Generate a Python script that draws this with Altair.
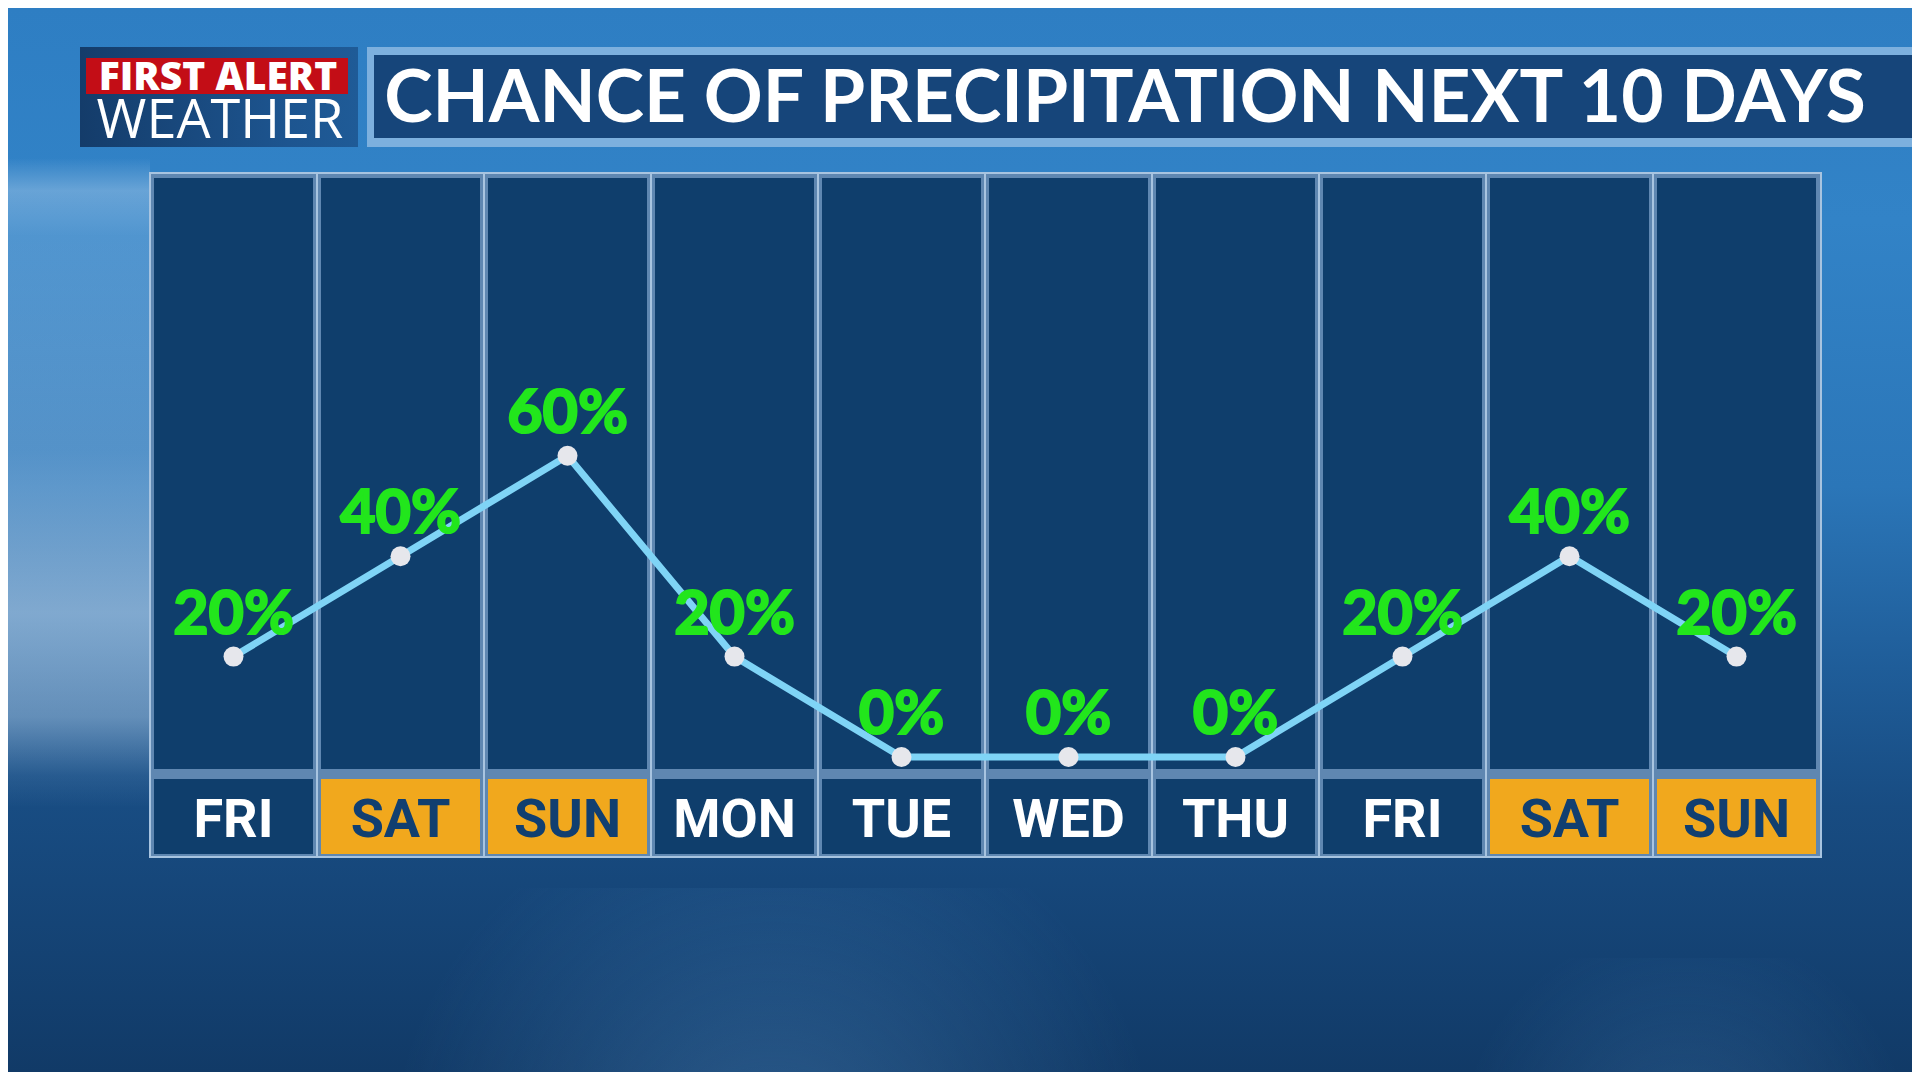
import altair as alt
import pandas as pd

# ---------------- data ----------------
days = ["FRI", "SAT", "SUN", "MON", "TUE", "WED", "THU", "FRI", "SAT", "SUN"]
precip = [20, 40, 60, 20, 0, 0, 0, 20, 40, 20]
weekend_names = ["SAT", "SUN"]
title_text = "CHANCE OF PRECIPITATION NEXT 10 DAYS"
logo_top = "FIRST ALERT"
logo_bottom = "WEATHER"

W, H = 1904, 1064

df = pd.DataFrame({"i": list(range(len(days))), "day": days, "pct": precip})
df["x0"] = df["i"]
df["x1"] = df["i"] + 1
df["xc"] = df["i"] + 0.5
df["label"] = df["pct"].astype(str) + "%"
df["wk"] = df["day"].isin(weekend_names).map({True: "wk", False: "wd"})

one = pd.DataFrame({"a": [0]})

xs = alt.Scale(domain=[0, 10], range=[142, 1812], nice=False, zero=False)
ys = alt.Scale(domain=[0, 100], range=[749, 247], nice=False, zero=False)


def grad(stops, x2=0, y2=1):
    return alt.LinearGradient(
        gradient="linear",
        stops=[alt.GradientStop(offset=o, color=c) for o, c in stops],
        x1=0, y1=0, x2=x2, y2=y2,
    )


def rgrad(stops, cx=0.5, cy=0.5):
    return alt.RadialGradient(
        gradient="radial",
        stops=[alt.GradientStop(offset=o, color=c) for o, c in stops],
        x1=cx, y1=cy, r1=0, x2=cx, y2=cy, r2=0.5,
    )


# ---------------- background ----------------
bg = alt.Chart(one).mark_rect(
    fill=grad([(0, "#2e7ec3"), (0.2, "#3283c7"), (0.45, "#2b76b8"),
               (0.62, "#1f5d99"), (0.75, "#184c82"), (1, "#113a67")])
).encode(x=alt.value(0), x2=alt.value(W), y=alt.value(0), y2=alt.value(H))

swoosh_left = alt.Chart(one).mark_rect(
    fill=grad([(0, "rgba(205,225,244,0.0)"), (0.05, "rgba(205,225,244,0.35)"),
               (0.12, "rgba(205,225,244,0.2)"), (0.45, "rgba(205,225,244,0.25)"),
               (0.7, "rgba(205,225,244,0.55)"), (0.86, "rgba(205,225,244,0.4)"),
               (0.95, "rgba(205,225,244,0.08)"), (1, "rgba(205,225,244,0.0)")])
).encode(x=alt.value(0), x2=alt.value(142), y=alt.value(150), y2=alt.value(800))

clouds = alt.Chart(one).mark_rect(
    fill=rgrad([(0, "rgba(90,150,205,0.38)"), (0.6, "rgba(90,150,205,0.14)"),
                (1, "rgba(90,150,205,0.0)")], cx=0.5, cy=0.75)
).encode(x=alt.value(380), x2=alt.value(1150), y=alt.value(880), y2=alt.value(H))

clouds2 = alt.Chart(one).mark_rect(
    fill=rgrad([(0, "rgba(90,150,205,0.25)"), (1, "rgba(90,150,205,0.0)")], cx=0.5, cy=0.8)
).encode(x=alt.value(1450), x2=alt.value(W), y=alt.value(950), y2=alt.value(H))

# ---------------- header ----------------
logo_box = alt.Chart(one).mark_rect(
    fill=grad([(0, "#143c6a"), (0.75, "#1d5590"), (1, "#1f5b97")], x2=1, y2=0)
).encode(x=alt.value(72), x2=alt.value(350), y=alt.value(39), y2=alt.value(139))

logo_red = alt.Chart(one).mark_rect(fill="#c30d16").encode(
    x=alt.value(78), x2=alt.value(340), y=alt.value(50), y2=alt.value(86))

logo_t1 = alt.Chart(one).mark_text(
    text=logo_top, font="Open Sans", fontWeight=800, fontSize=39, color="white",
    align="center", baseline="alphabetic"
).encode(x=alt.value(210), y=alt.value(82))

logo_t2 = alt.Chart(one).mark_text(
    text=logo_bottom, font="Open Sans", fontWeight=400, fontSize=54, color="white",
    align="center", baseline="alphabetic"
).encode(x=alt.value(212), y=alt.value(130))

title_frame = alt.Chart(one).mark_rect(fill="#7db0de").encode(
    x=alt.value(359), x2=alt.value(W), y=alt.value(39), y2=alt.value(139))
title_box = alt.Chart(one).mark_rect(fill="#16457a").encode(
    x=alt.value(366), x2=alt.value(W), y=alt.value(47), y2=alt.value(130))
title = alt.Chart(one).mark_text(
    text=title_text, font="Lato", fontWeight="bold", fontSize=73, color="white",
    align="center", baseline="alphabetic"
).encode(x=alt.value(1117), y=alt.value(114))

# ---------------- grid ----------------
frame = alt.Chart(one).mark_rect(fill="#5f87b1", stroke="#a8c4e0", strokeWidth=2).encode(
    x=alt.value(142), x2=alt.value(1813), y=alt.value(165), y2=alt.value(849))

seps = alt.Chart(df).transform_filter("datum.i > 0").mark_rule(
    color="#a8c4e0", strokeWidth=2
).encode(x=alt.X("x0:Q", scale=xs, axis=None), y=alt.value(165), y2=alt.value(849))

cols = alt.Chart(df).mark_rect(fill="#0f3e6c", xOffset=4, x2Offset=-4).encode(
    x=alt.X("x0:Q", scale=xs, axis=None), x2="x1:Q",
    y=alt.value(170), y2=alt.value(761))

boxes = alt.Chart(df).mark_rect(xOffset=4, x2Offset=-4).encode(
    x=alt.X("x0:Q", scale=xs, axis=None), x2="x1:Q",
    y=alt.value(771), y2=alt.value(846),
    fill=alt.Fill("wk:N", scale=alt.Scale(domain=["wk", "wd"], range=["#f1a81d", "#0f3e6c"]),
                  legend=None))

day_txt = alt.Chart(df).mark_text(
    font="Roboto", fontWeight="bold", fontSize=54, baseline="alphabetic",
    align="center"
).encode(
    x=alt.X("xc:Q", scale=xs, axis=None), y=alt.value(829), text="day:N",
    color=alt.Color("wk:N", scale=alt.Scale(domain=["wk", "wd"], range=["#113f70", "#ffffff"]),
                    legend=None))

# ---------------- data marks ----------------
line = alt.Chart(df).mark_line(color="#7fd4f6", strokeWidth=7).encode(
    x=alt.X("xc:Q", scale=xs, axis=None), y=alt.Y("pct:Q", scale=ys, axis=None))

pts = alt.Chart(df).mark_circle(size=400, color="#e6e7ec", opacity=1).encode(
    x=alt.X("xc:Q", scale=xs, axis=None), y=alt.Y("pct:Q", scale=ys, axis=None))

lbl = alt.Chart(df).mark_text(
    font="Lato", fontWeight="bold", fontSize=61, color="#22e61c",
    stroke="#22e61c", strokeWidth=2.2,
    dy=-23, baseline="alphabetic", align="center"
).encode(x=alt.X("xc:Q", scale=xs, axis=None), y=alt.Y("pct:Q", scale=ys, axis=None),
         text="label:N")

chart = alt.layer(
    bg, swoosh_left, clouds, clouds2, logo_box, logo_red, logo_t1, logo_t2,
    title_frame, title_box, title,
    frame, cols, seps, boxes, day_txt, line, pts, lbl
).properties(
    width=W, height=H, padding=0,
    autosize=alt.AutoSizeParams(type="none"),
    background="#2e7ec3",
).configure_view(stroke=None)

chart.save("out.html", embed_options={"renderer": "svg", "actions": False})
